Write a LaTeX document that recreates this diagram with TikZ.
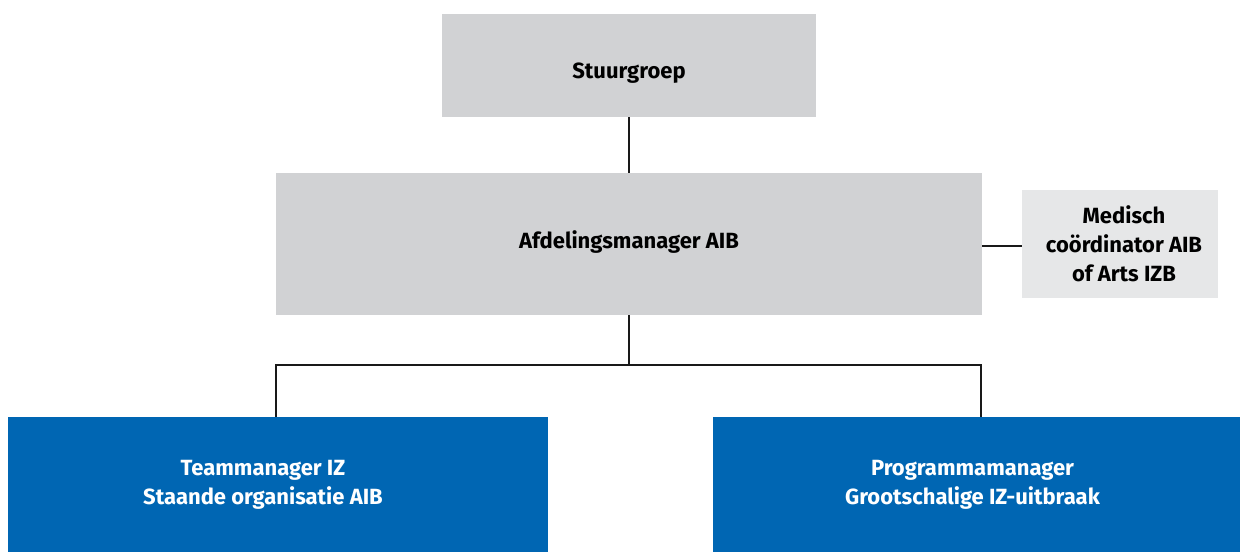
\documentclass[tikz,border=0pt]{standalone}
\usepackage{fontspec}
\setmainfont{Fira Sans}
\definecolor{boxgray}{HTML}{D1D2D4}
\definecolor{boxlight}{HTML}{E6E7E8}
\definecolor{boxblue}{HTML}{0066B3}
\begin{document}
\begin{tikzpicture}[x=1pt,y=-1pt,
  box/.style={rectangle, inner sep=0pt, align=center, font=\fontsize{22}{29}\selectfont\bfseries},
  graybox/.style={box, fill=boxgray, text=black},
  lightbox/.style={box, fill=boxlight, text=black},
  bluebox/.style={box, fill=boxblue, text=white},
  conn/.style={draw=black!90, line width=1.4pt}]
\useasboundingbox (0,0) rectangle (1240,552);
\node[graybox, minimum width=374pt, minimum height=103pt] (st) at (629,65.5) {\raisebox{-13pt}[0pt][0pt]{Stuurgroep}};
\node[graybox, minimum width=706pt, minimum height=142pt] (af) at (629,244) {\raisebox{-4.5pt}[0pt][0pt]{Afdelingsmanager AIB}};
\node[lightbox, minimum width=196pt, minimum height=108pt] (med) at (1120,244) {\hspace*{8pt}Medisch\\\hspace*{8pt}coördinator AIB\\\hspace*{8pt}of Arts IZB};
\node[bluebox, minimum width=540pt, minimum height=135pt] (tm) at (278,484.5) {\hspace*{-30pt}Teammanager IZ\\\hspace*{-30pt}Staande organisatie AIB};
\node[bluebox, minimum width=527pt, minimum height=135pt] (pm) at (976.5,484.5) {\hspace*{-8pt}Programmamanager\\\hspace*{-8pt}Grootschalige IZ-uitbraak};
\coordinate (jm) at (629,365);
\coordinate (jl) at (276,365);
\coordinate (jr) at (981,365);
\draw[conn] (st.south) -- (af.north);
\draw[conn] (af.east |- 0,246) -- (med.west |- 0,246);
\draw[conn] (af.south) -- (jm);
\draw[conn] (jl |- tm.north) -- (jl) -- (jr) -- (jr |- pm.north);
\end{tikzpicture}
\end{document}
